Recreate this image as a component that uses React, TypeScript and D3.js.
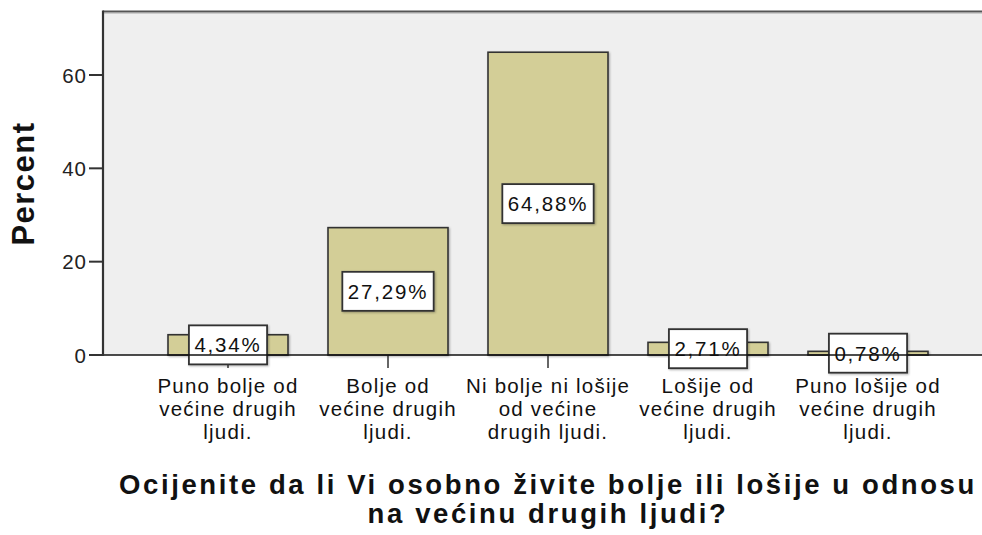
import React, { useEffect, useRef } from 'react';
import * as d3 from 'd3';

const categoryLines: string[][] = [
  ['Puno bolje od', 'većine drugih', 'ljudi.'],
  ['Bolje od', 'većine drugih', 'ljudi.'],
  ['Ni bolje ni lošije', 'od većine', 'drugih ljudi.'],
  ['Lošije od', 'većine drugih', 'ljudi.'],
  ['Puno lošije od', 'većine drugih', 'ljudi.'],
];
const percents: number[] = [4.34, 27.29, 64.88, 2.71, 0.78];
const valueLabels: string[] = ['4,34%', '27,29%', '64,88%', '2,71%', '0,78%'];
const yTicks: number[] = [0, 20, 40, 60];
const yLabel = 'Percent';
const titleLines: string[] = [
  'Ocijenite da li Vi osobno živite bolje ili lošije u odnosu',
  'na većinu drugih ljudi?',
];

const W = 982;
const H = 535;
const FONT = "'Liberation Sans', Arial, sans-serif";

export default function App() {
  const ref = useRef<SVGSVGElement>(null);

  useEffect(() => {
    const svg = d3.select(ref.current);
    svg.selectAll('*').remove();

    const left = 103, top = 12, bottom = 355;
    const x = d3
      .scaleBand<number>()
      .domain(d3.range(percents.length))
      .range([148, 948])
      .paddingInner(0.25)
      .paddingOuter(0.125);
    const y = d3.scaleLinear().domain([0, 73.5]).range([bottom, top]);

    const defs = svg.append('defs');
    const f = defs.append('filter').attr('id', 'sh').attr('x', '-10%').attr('y', '-10%').attr('width', '130%').attr('height', '130%');
    f.append('feDropShadow').attr('dx', 1).attr('dy', 1).attr('stdDeviation', 1).attr('flood-color', '#000').attr('flood-opacity', 0.3);

    // plot background
    svg.append('rect').attr('x', left).attr('y', top).attr('width', W - left + 10).attr('height', bottom - top).attr('fill', '#efefef');
    svg.append('line').attr('x1', left).attr('x2', W + 5).attr('y1', top - 0.5).attr('y2', top - 0.5).attr('stroke', '#555').attr('stroke-width', 2);
    svg.append('line').attr('x1', left).attr('x2', W + 5).attr('y1', top + 1.5).attr('y2', top + 1.5).attr('stroke', '#ccc').attr('stroke-width', 1);

    // bars
    svg.append('g').selectAll('rect').data(percents).join('rect')
      .attr('x', (_, i) => x(i)!)
      .attr('y', d => y(d))
      .attr('width', x.bandwidth())
      .attr('height', d => bottom - y(d))
      .attr('fill', '#d3ce97')
      .attr('stroke', '#333')
      .attr('stroke-width', 1.6)
      .attr('filter', 'url(#sh)');

    // x ticks
    svg.append('g').selectAll('line').data(percents).join('line')
      .attr('x1', (_, i) => x(i)! + x.bandwidth() / 2)
      .attr('x2', (_, i) => x(i)! + x.bandwidth() / 2)
      .attr('y1', bottom).attr('y2', bottom + 13)
      .attr('stroke', '#333').attr('stroke-width', 1.5);

    // value label boxes
    const lg = svg.append('g').selectAll('g').data(percents).join('g');
    lg.each(function (d, i) {
      const g = d3.select(this);
      const cx = x(i)! + x.bandwidth() / 2;
      const cy = (y(d) + bottom) / 2;
      const rect = g.append('rect').attr('fill', '#fff').attr('stroke', '#333').attr('stroke-width', 1.8).attr('filter', 'url(#sh)');
      const t = g.append('text')
        .attr('x', cx).attr('y', cy + 7.5)
        .attr('text-anchor', 'middle')
        .attr('font-family', FONT).attr('font-size', 20.5)
        .attr('letter-spacing', 1.8)
        .attr('fill', '#111')
        .text(valueLabels[i]);
      const tw = (t.node() as SVGTextElement).getComputedTextLength();
      const bw = tw + 11;
      const bh = 39;
      rect.attr('x', cx - bw / 2).attr('y', cy - bh / 2).attr('width', bw).attr('height', bh);
    });

    // baseline
    svg.append('line').attr('x1', left).attr('x2', W + 5).attr('y1', bottom).attr('y2', bottom).attr('stroke', '#111').attr('stroke-width', 1.6);

    // y axis
    svg.append('line').attr('x1', left).attr('x2', left).attr('y1', top - 1.5).attr('y2', bottom + 1).attr('stroke', '#333').attr('stroke-width', 2.2);
    const yt = svg.append('g').selectAll('g').data(yTicks).join('g');
    yt.append('line').attr('x1', 89).attr('x2', left).attr('y1', d => y(d)).attr('y2', d => y(d)).attr('stroke', '#333').attr('stroke-width', 2);
    yt.append('text')
      .attr('x', 87).attr('y', d => y(d) + 7.5)
      .attr('text-anchor', 'end')
      .attr('font-family', FONT).attr('font-size', 20.5)
      .attr('letter-spacing', 1)
      .attr('fill', '#222')
      .text(d => String(d));

    // category labels
    const cl = svg.append('g').selectAll('text').data(categoryLines).join('text')
      .attr('text-anchor', 'middle')
      .attr('font-family', FONT).attr('font-size', 20.5)
      .attr('letter-spacing', 1.2)
      .attr('fill', '#111');
    cl.selectAll('tspan').data((d, i) => d.map(s => ({ s, i }))).join('tspan')
      .attr('x', d => x(d.i)! + x.bandwidth() / 2)
      .attr('y', (_, j) => 393 + j * 22.8)
      .text(d => d.s);

    // y label
    svg.append('text')
      .attr('transform', `translate(34,${(top + bottom) / 2 + 0}) rotate(-90)`)
      .attr('text-anchor', 'middle')
      .attr('font-family', FONT).attr('font-size', 31).attr('font-weight', 'bold')
      .attr('letter-spacing', 1.5)
      .attr('fill', '#111')
      .text(yLabel);

    // title
    svg.append('g').selectAll('text').data(titleLines).join('text')
      .attr('x', 548).attr('y', (_, j) => 494 + j * 29)
      .attr('text-anchor', 'middle')
      .attr('font-family', FONT).attr('font-size', 27.5).attr('font-weight', 'bold')
      .attr('letter-spacing', 2.6)
      .attr('fill', '#111')
      .text(d => d);
  }, []);

  return (
    <svg
      ref={ref}
      width={W}
      height={H}
      style={{ position: 'absolute', left: 0, top: 0, background: '#fff' }}
    />
  );
}
